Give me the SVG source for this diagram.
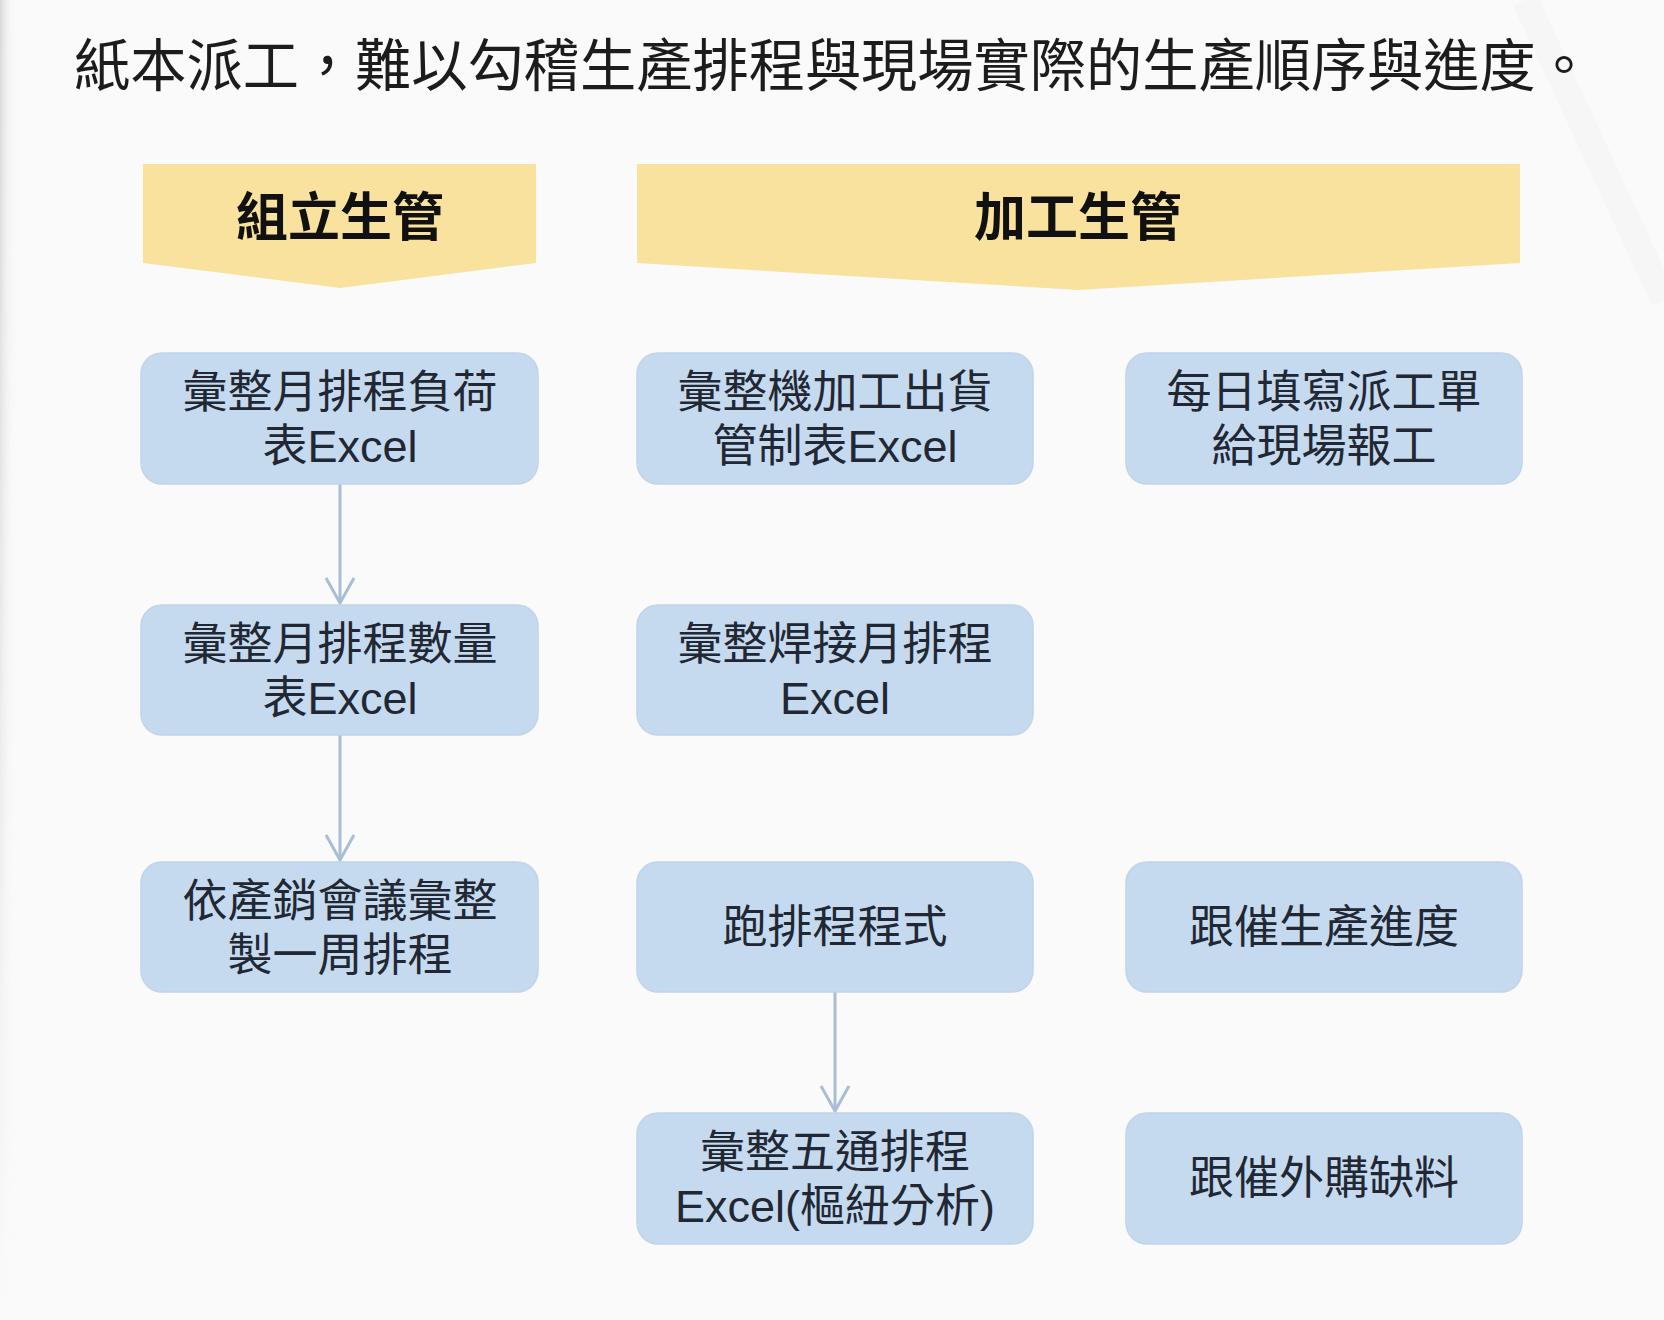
<svg xmlns="http://www.w3.org/2000/svg" width="1664" height="1320" viewBox="0 0 1664 1320">
<defs>
<style>
.title{font-family:"Liberation Sans","Noto Sans CJK TC",sans-serif;font-size:57px;fill:#1c1c1c}
.hdr{font-family:"Liberation Sans","Noto Sans CJK TC",sans-serif;font-size:52px;font-weight:bold;fill:#111111;text-anchor:middle}
.banner{fill:#f9e29d}
.box{fill:#c6daef;stroke:#c0d4ea;stroke-width:1.5}
.lbl{font-family:"Liberation Sans","Noto Sans CJK TC",sans-serif;font-size:45px;fill:#222833;text-anchor:middle}
.conn{stroke:#a8bdd6;stroke-width:3;fill:none}
</style>
<linearGradient id="leftEdge" x1="0" y1="0" x2="1" y2="0">
<stop offset="0" stop-color="#d8d8d8"/>
<stop offset="1" stop-color="#fafafa" stop-opacity="0"/>
</linearGradient>
<linearGradient id="vfade" x1="0" y1="0" x2="0" y2="1">
<stop offset="0" stop-color="#ffffff"/>
<stop offset="0.6" stop-color="#ffffff" stop-opacity="0.4"/>
<stop offset="1" stop-color="#ffffff" stop-opacity="0"/>
</linearGradient>
<mask id="edgeMask">
<rect x="0" y="0" width="20" height="1320" fill="url(#vfade)"/>
</mask>
<marker id="arr" viewBox="0 0 30 30" refX="27" refY="15" markerWidth="30" markerHeight="30" markerUnits="userSpaceOnUse" orient="auto">
<path d="M2,1 L27,15 L2,29" fill="none" stroke="#a8bdd6" stroke-width="3"/>
</marker>
</defs>
<rect x="0" y="0" width="1664" height="1320" fill="#fafafa"/>
<rect x="0" y="0" width="16" height="1320" fill="url(#leftEdge)" mask="url(#edgeMask)"/>
<path d="M1525,0 L1664,300" stroke="#f2f2f2" stroke-width="26" fill="none" opacity="0.5"/>
<text class="title" x="74" y="86" textLength="1518" lengthAdjust="spacingAndGlyphs">紙本派工，難以勾稽生產排程與現場實際的生產順序與進度。</text>
<g id="header-assembly">
<polygon class="banner" points="143,164 536,164 536,263 340,288 143,263"/>
<text class="hdr" x="340" y="236">組立生管</text>
</g>
<g id="header-machining">
<polygon class="banner" points="637,164 1520,164 1520,263 1078,290 637,263"/>
<text class="hdr" x="1078" y="236">加工生管</text>
</g>
<g id="connectors">
<line class="conn" x1="340" y1="484" x2="340" y2="603" marker-end="url(#arr)"/>
<line class="conn" x1="340" y1="735" x2="340" y2="860" marker-end="url(#arr)"/>
<line class="conn" x1="835" y1="992" x2="835" y2="1111" marker-end="url(#arr)"/>
</g>
<g id="a1">
<rect class="box" x="141" y="353" width="397" height="131" rx="21"/>
<text class="lbl" x="340" y="408">彙整月排程負荷</text>
<text class="lbl" x="340" y="462">表Excel</text>
</g>
<g id="a2">
<rect class="box" x="141" y="605" width="397" height="130" rx="21"/>
<text class="lbl" x="340" y="660">彙整月排程數量</text>
<text class="lbl" x="340" y="714">表Excel</text>
</g>
<g id="a3">
<rect class="box" x="141" y="862" width="397" height="130" rx="21"/>
<text class="lbl" x="340" y="917">依產銷會議彙整</text>
<text class="lbl" x="340" y="971">製一周排程</text>
</g>
<g id="m1">
<rect class="box" x="637" y="353" width="396" height="131" rx="21"/>
<text class="lbl" x="835" y="408">彙整機加工出貨</text>
<text class="lbl" x="835" y="462">管制表Excel</text>
</g>
<g id="m2">
<rect class="box" x="637" y="605" width="396" height="130" rx="21"/>
<text class="lbl" x="835" y="660">彙整焊接月排程</text>
<text class="lbl" x="835" y="714">Excel</text>
</g>
<g id="m3">
<rect class="box" x="637" y="862" width="396" height="130" rx="21"/>
<text class="lbl" x="835" y="943">跑排程程式</text>
</g>
<g id="m4">
<rect class="box" x="637" y="1113" width="396" height="131" rx="21"/>
<text class="lbl" x="835" y="1168">彙整五通排程</text>
<text class="lbl" x="835" y="1222">Excel(樞紐分析)</text>
</g>
<g id="d1">
<rect class="box" x="1126" y="353" width="396" height="131" rx="21"/>
<text class="lbl" x="1324" y="408">每日填寫派工單</text>
<text class="lbl" x="1324" y="462">給現場報工</text>
</g>
<g id="d3">
<rect class="box" x="1126" y="862" width="396" height="130" rx="21"/>
<text class="lbl" x="1324" y="943">跟催生產進度</text>
</g>
<g id="d4">
<rect class="box" x="1126" y="1113" width="396" height="131" rx="21"/>
<text class="lbl" x="1324" y="1194">跟催外購缺料</text>
</g>
</svg>
